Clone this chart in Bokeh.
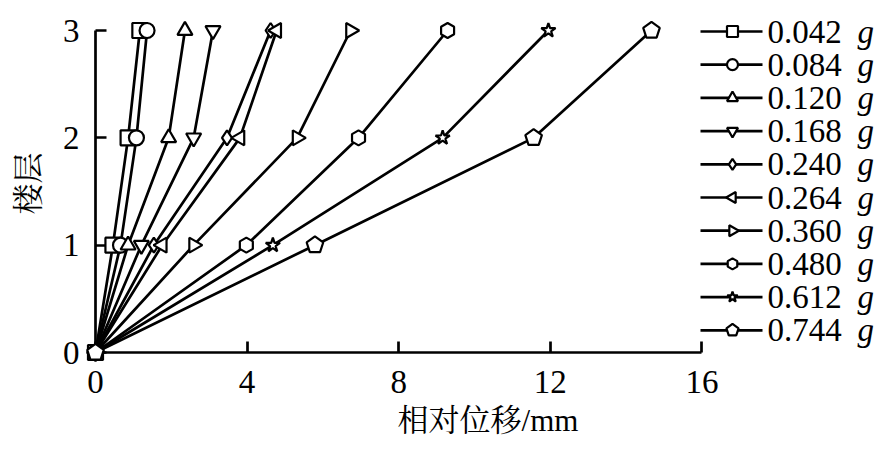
import numpy as np
from bokeh.plotting import figure
from bokeh.models import ColumnDataSource, Label, Range1d, FixedTicker
from bokeh.embed import file_html
from bokeh.resources import INLINE

# floors and relative displacement (mm) per excitation level
floors = [0, 1, 2, 3]
levels = ["0.042", "0.084", "0.120", "0.168", "0.240", "0.264", "0.360", "0.480", "0.612", "0.744"]
d_0042 = [0, 0.46, 0.86, 1.17]
d_0084 = [0, 0.66, 1.08, 1.36]
d_0120 = [0, 0.86, 1.93, 2.36]
d_0168 = [0, 1.21, 2.59, 3.10]
d_0240 = [0, 1.54, 3.47, 4.62]
d_0264 = [0, 1.76, 3.81, 4.78]
d_0360 = [0, 2.59, 5.32, 6.73]
d_0480 = [0, 3.98, 6.94, 9.29]
d_0612 = [0, 4.68, 9.16, 11.95]
d_0744 = [0, 5.79, 11.56, 14.67]
series = [d_0042, d_0084, d_0120, d_0168, d_0240, d_0264, d_0360, d_0480, d_0612, d_0744]

markers = [("square", 0), ("circle", 0), ("triangle", 0), ("inverted_triangle", 0),
           ("diamond", 0), ("triangle", np.pi / 2), ("triangle", -np.pi / 2),
           ("hex", np.pi / 6), ("star", 0), ("pentagon", 0)]

FONT = "Liberation Serif, Noto Serif CJK SC, Noto Sans CJK SC"

W, H = 880, 447
L, T, B = 95, 14, 95
FW, FH = W - L, H - T - B

# frame spans past x=16 / y=3 so the legend sits inside it; axes are bounded
p = figure(width=W, height=H, output_backend="svg", toolbar_location=None,
           x_range=Range1d(0, FW / 37.9), y_range=Range1d(0, FH / 107.33),
           min_border_left=L, min_border_right=0, min_border_top=T, min_border_bottom=B)
p.outline_line_color = None
p.grid.visible = False
p.background_fill_color = "white"
# pixel ranges for the legend block
p.extra_x_ranges = {"px": Range1d(0, FW)}
p.extra_y_ranges = {"py": Range1d(0, FH)}


def draw_marker(src, mk, ang, size, xr="default", yr="default"):
    if mk == "pentagon":
        p.ngon("x", "y", source=src, n=5, radius=size * 0.58, radius_units="screen",
               fill_color="white", line_color="black", line_width=2.2, level="overlay",
               x_range_name=xr, y_range_name=yr)
    else:
        p.scatter("x", "y", source=src, marker=mk, angle=ang, size=size,
                  fill_color="white", line_color="black", line_width=2.2, level="overlay",
                  x_range_name=xr, y_range_name=yr)


row_step = 33.2
for i, (lev, xs, (mk, ang)) in enumerate(zip(levels, series, markers)):
    src = ColumnDataSource(dict(x=xs, y=floors))
    p.line("x", "y", source=src, line_color="black", line_width=2.7, level="overlay")
    draw_marker(src, mk, ang, 15)

    # legend row
    ry = FH - (31 - T) - row_step * i
    p.line([605, 667], [ry, ry], line_color="black", line_width=2.7, level="overlay",
           x_range_name="px", y_range_name="py")
    draw_marker(ColumnDataSource(dict(x=[637], y=[ry])), mk, ang, 11, "px", "py")
    p.add_layout(Label(x=672, y=ry, x_units="screen", y_units="screen", text=lev,
                       text_font=FONT, text_font_size="33px", text_baseline="middle",
                       text_color="black"))
    p.add_layout(Label(x=762, y=ry, x_units="screen", y_units="screen", text="g",
                       text_font=FONT, text_font_size="33px", text_font_style="italic",
                       text_baseline="middle", text_color="black"))

for ax in (p.xaxis[0], p.yaxis[0]):
    ax.axis_line_width = 2.7
    ax.major_tick_line_width = 2.7
    ax.major_tick_in = 11
    ax.major_tick_out = 0
    ax.minor_tick_line_color = None
    ax.major_label_text_font = FONT
    ax.major_label_text_font_size = "33px"
    ax.major_label_text_color = "black"
    ax.axis_label_text_font = FONT
    ax.axis_label_text_font_size = "31px"
    ax.axis_label_text_font_style = "normal"
    ax.axis_label_text_color = "black"

p.xaxis.bounds = (0, 16)
p.yaxis.bounds = (0, 3)
p.xaxis.ticker = FixedTicker(ticks=[0, 4, 8, 12, 16])
p.yaxis.ticker = FixedTicker(ticks=[0, 1, 2, 3])
p.xaxis.axis_label = "相对位移/mm"
p.yaxis.axis_label = "楼层"
p.xaxis.major_label_standoff = 18
p.xaxis.axis_label_standoff = 7
p.yaxis.major_label_standoff = 16
p.yaxis.axis_label_standoff = 14

open("out.html", "w").write(file_html(p, INLINE))
